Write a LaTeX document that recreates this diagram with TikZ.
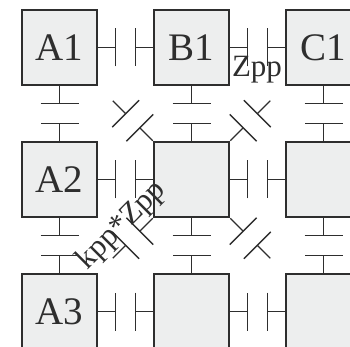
\documentclass[tikz,border=0pt]{standalone}
\usepackage{fontspec}
\setmainfont{Liberation Serif}
\usetikzlibrary{calc}
\definecolor{boxfill}{HTML}{EDEEEE}
\definecolor{ink}{HTML}{2E2E2E}
\newcommand{\capac}[2]{%
  \path ($(#1)!0.5!(#2)$) coordinate (cm)
        ($(cm)!10pt!(#1)$) coordinate (ca)
        ($(cm)!10pt!(#2)$) coordinate (cb);
  \draw[wire] (#1) -- (ca) ($(ca)!19pt!90:(#1)$) -- ($(ca)!19pt!-90:(#1)$)
              (#2) -- (cb) ($(cb)!19pt!90:(#2)$) -- ($(cb)!19pt!-90:(#2)$);}
\begin{document}
\begin{tikzpicture}[x=1pt,y=-1pt,
  cell/.style={draw=ink, fill=boxfill, line width=2.5pt, minimum size=75pt,
    inner sep=0pt, font=\fontsize{39}{39}\selectfont, text=ink},
  wire/.style={draw=ink, line width=1.3pt},
  lbl/.style={font=\fontsize{31}{31}\selectfont, text=ink, inner sep=0pt}]
\useasboundingbox (0,0) rectangle (350,347);
\clip (0,0) rectangle (350,347);
% boxes
\node[cell] (A1) at (59.5,47.5) {A1};
\node[cell] (B1) at (191.5,47.5) {B1};
\node[cell] (C1) at (323.5,47.5) {C1};
\node[cell] (A2) at (59.5,179.5) {A2};
\node[cell] (B2) at (191.5,179.5) {};
\node[cell] (C2) at (323.5,179.5) {};
\node[cell] (A3) at (59.5,311.5) {A3};
\node[cell] (B3) at (191.5,311.5) {};
\node[cell] (C3) at (323.5,311.5) {};
% horizontal capacitors
\capac{A1.east}{B1.west}
\capac{B1.east}{C1.west}
\capac{A2.east}{B2.west}
\capac{B2.east}{C2.west}
\capac{A3.east}{B3.west}
\capac{B3.east}{C3.west}
% vertical capacitors
\capac{A1.south}{A2.north}
\capac{A2.south}{A3.north}
\capac{B1.south}{B2.north}
\capac{B2.south}{B3.north}
\capac{C1.south}{C2.north}
\capac{C2.south}{C3.north}
% diagonal capacitors
\coordinate (dNW) at ($(B2.north west)+(-40,-40)$);
\coordinate (dNE) at ($(B2.north east)+(40,-40)$);
\coordinate (dSW) at ($(B2.south west)+(-40,40)$);
\coordinate (dSE) at ($(B2.south east)+(40,40)$);
\capac{B2.north west}{dNW}
\capac{B2.north east}{dNE}
\capac{B2.south west}{dSW}
\capac{B2.south east}{dSE}
% labels
\node[lbl, anchor=base] (zl) at (257,77) {Zpp};
\node[lbl, anchor=base, rotate=45] (kl) at (127,231) {kpp*Zpp};
\end{tikzpicture}
\end{document}
